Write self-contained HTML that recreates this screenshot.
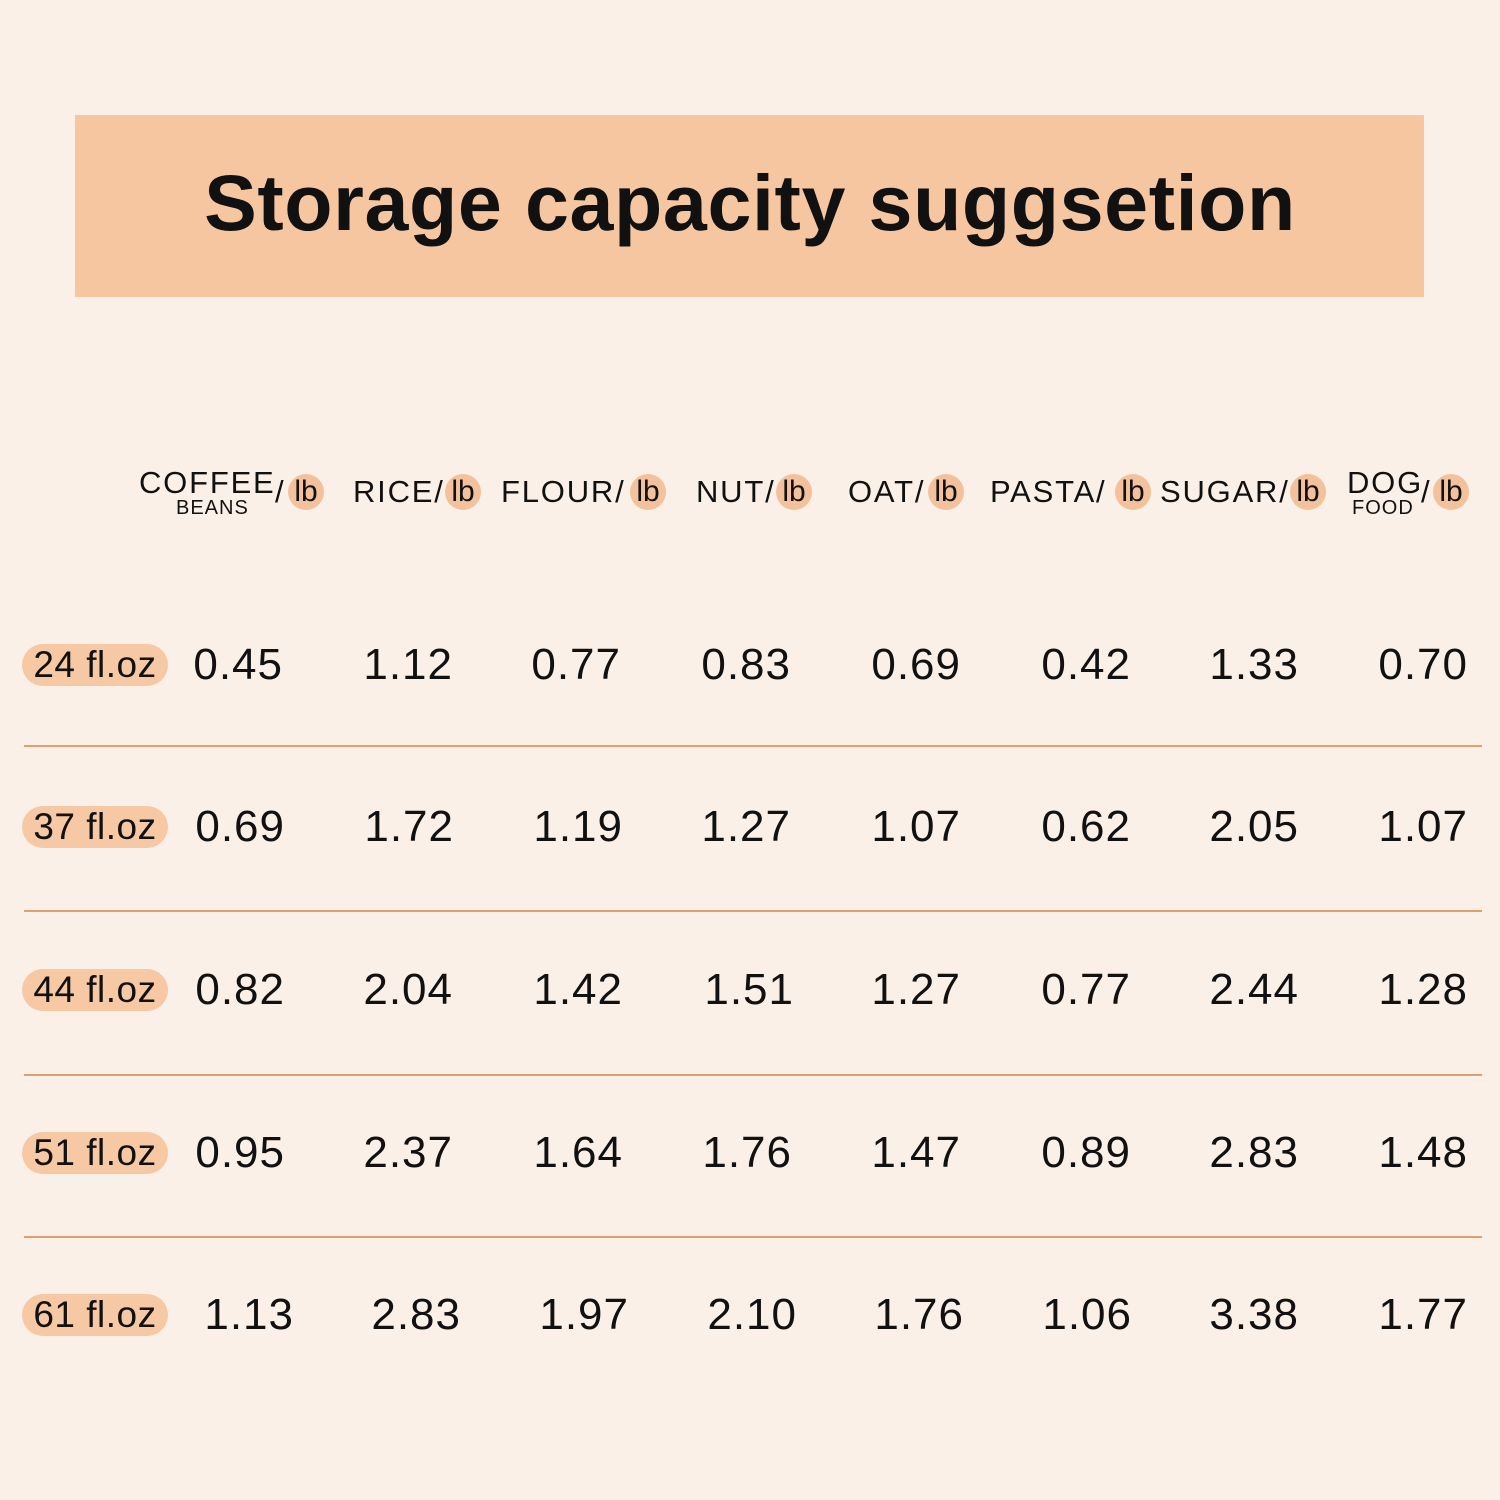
<!DOCTYPE html>
<html><head><style>
body{margin:0;width:1500px;height:1500px;background:#fbf0e8;position:relative;overflow:hidden;font-family:"Liberation Sans",sans-serif;color:#111}
.banner{position:absolute;left:75px;top:115px;width:1349px;height:182px;background:#f6c6a1}
.title{position:absolute;left:0;width:1500px;top:158px;text-align:center;font-size:79px;font-weight:bold;line-height:90px;letter-spacing:0.6px}
.h{position:absolute;font-size:31px;line-height:34px;top:475px;white-space:nowrap;letter-spacing:1.8px}
.s{position:absolute;font-size:20px;line-height:20px;top:498px;letter-spacing:1px}
.c{position:absolute;top:474px;width:36px;height:36px;border-radius:50%;background:#f3c29c;font-size:30px;line-height:36px;text-align:center}
.p{position:absolute;left:22px;width:146px;height:42px;border-radius:21px;background:#f6c8a4;font-size:37px;line-height:42px;text-align:center;letter-spacing:0.5px}
.v{position:absolute;font-size:44px;line-height:50px;text-align:right;width:120px;letter-spacing:1px}
.l{position:absolute;left:24px;width:1458px;height:2px;background:#e4a06c}
</style></head><body>
<div class="banner"></div>
<div class="title">Storage capacity suggsetion</div>

<div class="h" style="left:139px;top:466px">COFFEE</div><div class="s" style="left:176px">BEANS</div><div class="h" style="left:275px">/</div><div class="c" style="left:288px">lb</div>
<div class="h" style="left:353px">RICE/</div><div class="c" style="left:445px">lb</div>
<div class="h" style="left:501px">FLOUR/</div><div class="c" style="left:630px">lb</div>
<div class="h" style="left:696px">NUT/</div><div class="c" style="left:776px">lb</div>
<div class="h" style="left:848px">OAT/</div><div class="c" style="left:928px">lb</div>
<div class="h" style="left:990px">PASTA/</div><div class="c" style="left:1115px">lb</div>
<div class="h" style="left:1160px">SUGAR/</div><div class="c" style="left:1290px">lb</div>
<div class="h" style="left:1347px;top:466px">DOG</div><div class="s" style="left:1352px">FOOD</div><div class="h" style="left:1421px">/</div><div class="c" style="left:1433px">lb</div>

<div class="p" style="top:644px">24 fl.oz</div>
<div class="p" style="top:806px">37 fl.oz</div>
<div class="p" style="top:969px">44 fl.oz</div>
<div class="p" style="top:1132px">51 fl.oz</div>
<div class="p" style="top:1294px">61 fl.oz</div>

<div class="l" style="top:745px"></div>
<div class="l" style="top:910px"></div>
<div class="l" style="top:1074px"></div>
<div class="l" style="top:1236px"></div>

<div style="position:absolute;top:640px;left:0">
<div class="v" style="left:163px">0.45</div><div class="v" style="left:333px">1.12</div><div class="v" style="left:501px">0.77</div><div class="v" style="left:671px">0.83</div><div class="v" style="left:841px">0.69</div><div class="v" style="left:1011px">0.42</div><div class="v" style="left:1179px">1.33</div><div class="v" style="left:1348px">0.70</div>
</div>
<div style="position:absolute;top:802px;left:0">
<div class="v" style="left:165px">0.69</div><div class="v" style="left:334px">1.72</div><div class="v" style="left:503px">1.19</div><div class="v" style="left:671px">1.27</div><div class="v" style="left:841px">1.07</div><div class="v" style="left:1011px">0.62</div><div class="v" style="left:1179px">2.05</div><div class="v" style="left:1348px">1.07</div>
</div>
<div style="position:absolute;top:965px;left:0">
<div class="v" style="left:165px">0.82</div><div class="v" style="left:333px">2.04</div><div class="v" style="left:503px">1.42</div><div class="v" style="left:674px">1.51</div><div class="v" style="left:841px">1.27</div><div class="v" style="left:1011px">0.77</div><div class="v" style="left:1179px">2.44</div><div class="v" style="left:1348px">1.28</div>
</div>
<div style="position:absolute;top:1128px;left:0">
<div class="v" style="left:165px">0.95</div><div class="v" style="left:333px">2.37</div><div class="v" style="left:503px">1.64</div><div class="v" style="left:672px">1.76</div><div class="v" style="left:841px">1.47</div><div class="v" style="left:1011px">0.89</div><div class="v" style="left:1179px">2.83</div><div class="v" style="left:1348px">1.48</div>
</div>
<div style="position:absolute;top:1290px;left:0">
<div class="v" style="left:174px">1.13</div><div class="v" style="left:341px">2.83</div><div class="v" style="left:509px">1.97</div><div class="v" style="left:677px">2.10</div><div class="v" style="left:844px">1.76</div><div class="v" style="left:1012px">1.06</div><div class="v" style="left:1179px">3.38</div><div class="v" style="left:1348px">1.77</div>
</div>
</body></html>
